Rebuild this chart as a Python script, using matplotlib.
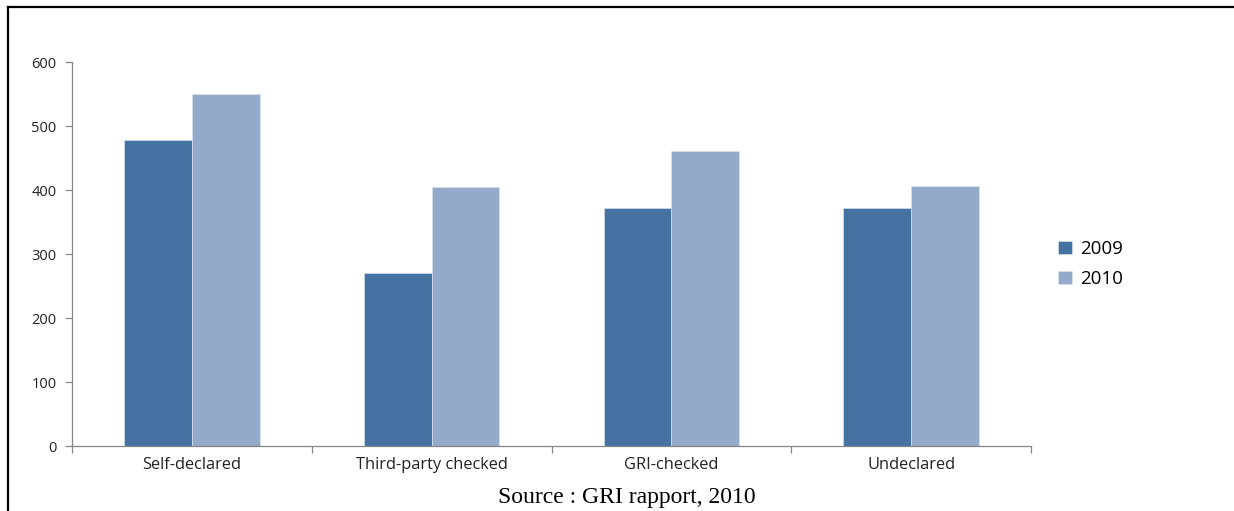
import numpy as np
import matplotlib
matplotlib.use("Agg")
import matplotlib.pyplot as plt
from matplotlib.lines import Line2D

# ── Datos ─────────────────────────────────────────────
categorias = ["Self-declared", "Third-party checked", "GRI-checked", "Undeclared"]
anios = ["2009", "2010"]
valores_2009 = [478, 270, 372, 372]
valores_2010 = [550, 404, 461, 406]

COLORES = ["#4472A2", "#93AACB"]
GRIS = "#868686"

plt.rcParams["font.family"] = ["Open Sans", "DejaVu Sans"]

fig = plt.figure(figsize=(12.34, 5.11), dpi=100)
ax = fig.add_axes([72 / 1234, 65 / 511, (1031 - 72) / 1234, (446 - 62) / 511])

x = np.arange(len(categorias))
ancho = 0.283
ax.bar(x - ancho / 2, valores_2009, ancho, color=COLORES[0], label=anios[0],
       edgecolor="#dfe6ef", linewidth=0.4)
ax.bar(x + ancho / 2, valores_2010, ancho, color=COLORES[1], label=anios[1],
       edgecolor="#dfe6ef", linewidth=0.4)

ax.set_xlim(-0.5, len(categorias) - 0.5)
ax.set_ylim(0, 600)
ax.set_yticks(range(0, 601, 100))
ax.set_xticks(x)
ax.set_xticklabels(categorias, fontsize=11.8, color="#222222")
ax.set_xticks(np.arange(-0.5, len(categorias)), minor=True)

for lado in ["top", "right"]:
    ax.spines[lado].set_visible(False)
for lado in ["left", "bottom"]:
    ax.spines[lado].set_color(GRIS)
    ax.spines[lado].set_linewidth(0.9)

ax.tick_params(axis="y", colors=GRIS, labelcolor="#222222", labelsize=10.5,
               length=5, width=0.9, pad=6)
ax.tick_params(axis="x", which="major", length=0, pad=8)
ax.tick_params(axis="x", which="minor", colors=GRIS, length=5, width=0.9)

ax.legend(loc="center left", bbox_to_anchor=(1.011, 0.474), frameon=False,
          handlelength=0.7, handleheight=0.7, handletextpad=0.45,
          labelspacing=0.62, prop={"size": 13.5})

# Marco parcial de la figura (arriba e izquierda)
fig.add_artist(Line2D([8 / 1234, 1], [1 - 7 / 511, 1 - 7 / 511], color="black",
                      linewidth=1.6, transform=fig.transFigure))
fig.add_artist(Line2D([8 / 1234, 8 / 1234], [0, 1 - 7 / 511], color="black",
                      linewidth=1.6, transform=fig.transFigure))

fig.text(627 / 1234, 1 - 497 / 511, "Source : GRI rapport, 2010",
         family=["Liberation Serif", "DejaVu Serif"], fontsize=17,
         ha="center", va="center", color="black")

fig.savefig("out.png", dpi=100)
